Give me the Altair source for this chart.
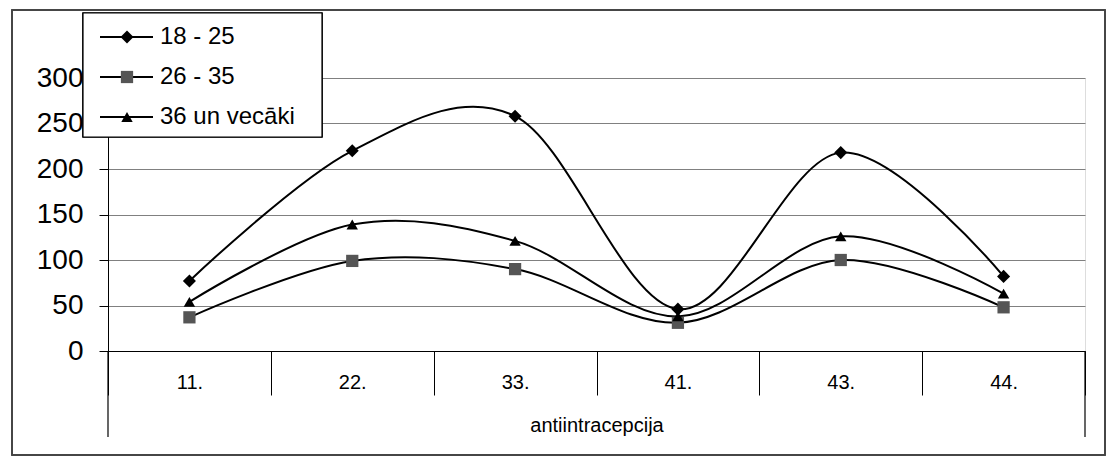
import altair as alt
import pandas as pd

categories = ["11.", "22.", "33.", "41.", "43.", "44."]
series_names = ["18 - 25", "26 - 35", "36 un vecāki"]
s_18_25 = [77, 220, 258, 46, 218, 82]
s_26_35 = [37, 99, 90, 31, 100, 48]
s_36_plus = [54, 139, 121, 38, 126, 63]
y_ticks = [0, 50, 100, 150, 200, 250, 300]

rows = []
for name, vals in zip(series_names, [s_18_25, s_26_35, s_36_plus]):
    for c, v in zip(categories, vals):
        rows.append({"cat": c, "series": name, "value": v})
df = pd.DataFrame(rows)
leg_df = pd.DataFrame({"series": series_names})

FONT = "Liberation Sans"
W, H = 977, 273

shape_scale = alt.Scale(domain=series_names, range=["diamond", "square", "triangle-up"])
fill_scale = alt.Scale(domain=series_names, range=["#000000", "#555555", "#000000"])
size_scale = alt.Scale(domain=series_names, range=[170, 130, 150])

x_enc = alt.X(
    "cat:N", sort=categories, title="antiintracepcija",
    scale=alt.Scale(paddingInner=0, paddingOuter=0),
    axis=alt.Axis(labelAngle=0, tickBand="extent", tickSize=44, tickColor="#000000",
                  domainColor="#000000", labelFontSize=20, labelFont=FONT,
                  labelColor="#000000", labelPadding=-23, titleFont=FONT,
                  titleFontSize=20, titleFontWeight="normal", titleColor="#000000",
                  titlePadding=20),
)
y_enc = alt.Y(
    "value:Q", title=None,
    scale=alt.Scale(domain=[0, 300], nice=False),
    axis=alt.Axis(values=y_ticks, tickSize=9, tickColor="#000000", domainColor="#000000",
                  gridColor="#808080", labelFontSize=28, labelFont=FONT,
                  labelColor="#000000", labelPadding=16),
)

lines = alt.Chart(df).mark_line(interpolate="cardinal", color="#000000", strokeWidth=2).encode(
    x=x_enc, y=y_enc, detail="series:N"
)
points = alt.Chart(df).mark_point(filled=True, opacity=1).encode(
    x=alt.X("cat:N", sort=categories),
    y=alt.Y("value:Q"),
    shape=alt.Shape("series:N", scale=shape_scale, legend=None),
    fill=alt.Fill("series:N", scale=fill_scale, legend=None),
    size=alt.Size("series:N", scale=size_scale, legend=None),
)

outer = alt.Chart(leg_df).mark_rect(fill=None, stroke="#444444", strokeWidth=1.5).encode(
    x=alt.value(-96), x2=alt.value(997), y=alt.value(-68), y2=alt.value(377)
)
ext_rules = alt.Chart(pd.DataFrame({"xp": [0, W]})).mark_rule(color="#000000", strokeWidth=1.2).encode(
    x=alt.X("xp:Q", scale=None), y=alt.value(H), y2=alt.value(359)
)

leg_box = alt.Chart(leg_df).mark_rect(fill="#ffffff", stroke="#000000", strokeWidth=1.2).encode(
    x=alt.value(-25), x2=alt.value(214), y=alt.value(-65), y2=alt.value(59)
)
leg_y = alt.Y("series:N", sort=series_names, axis=None,
              scale=alt.Scale(type="point", range=[-41, 39], padding=0))
leg_lines = alt.Chart(leg_df).mark_rule(color="#000000", strokeWidth=2).encode(
    x=alt.value(-8), x2=alt.value(45), y=leg_y
)
leg_pts = alt.Chart(leg_df).mark_point(filled=True, opacity=1).encode(
    x=alt.value(19), y=leg_y,
    shape=alt.Shape("series:N", scale=shape_scale, legend=None),
    fill=alt.Fill("series:N", scale=fill_scale, legend=None),
    size=alt.Size("series:N", scale=size_scale, legend=None),
)
leg_text = alt.Chart(leg_df).mark_text(align="left", baseline="middle", fontSize=24,
                                        font=FONT, color="#000000").encode(
    x=alt.value(52), y=leg_y, text="series:N"
)

main = alt.layer(outer, lines, points, ext_rules)
legend = alt.layer(leg_box, leg_lines, leg_pts, leg_text)

chart = alt.layer(main, legend).resolve_scale(y="independent").properties(
    width=W, height=H,
    autosize=alt.AutoSizeParams(type="none"),
    padding={"left": 108, "top": 78, "right": 22, "bottom": 109},
).configure_view(stroke="#808080").configure(background="#ffffff")

chart.save("out.html", embed_options={"renderer": "svg", "actions": False})
